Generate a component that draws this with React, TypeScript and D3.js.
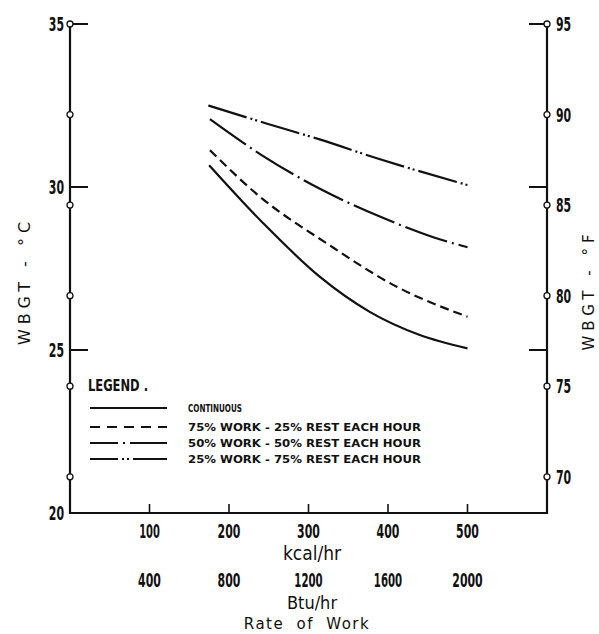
import React, { useEffect, useRef } from "react";
import * as d3 from "d3";

// rate of work, kcal/hr
const kcalTicks = [100, 200, 300, 400, 500];
const btuTicks = [400, 800, 1200, 1600, 2000];
const celsiusTicks = [20, 25, 30, 35];
const fahrenheitTicks = [70, 75, 80, 85, 90, 95];

const seriesNames = [
  "CONTINUOUS",
  "75% WORK - 25% REST EACH HOUR",
  "50% WORK - 50% REST EACH HOUR",
  "25% WORK - 75% REST EACH HOUR",
];

// values: [kcal/hr, WBGT °C]
const continuous: [number, number][] = [
  [175, 30.67], [243, 28.89], [314, 27.25], [377, 26.17], [440, 25.46], [500, 25.05],
];
const work75: [number, number][] = [
  [176, 31.13], [239, 29.7], [323, 28.27], [411, 26.94], [500, 26.02],
];
const work50: [number, number][] = [
  [176, 32.08], [241, 30.98], [318, 29.9], [392, 29.07], [457, 28.46], [500, 28.15],
];
const work25: [number, number][] = [
  [174, 32.5], [247, 31.95], [314, 31.46], [390, 30.85], [500, 30.06],
];

const allSeries = [continuous, work75, work50, work25];
const curveDash = [null, "9,5", "44,5,2,5", "40,4,2,3,2,4"];
const legendDash = [null, "10,7", "28,5,2,5,60", "28,4,2,3,2,4,60"];

const FONT = "'DejaVu Sans Condensed', 'DejaVu Sans', sans-serif";
const ink = "#111";

// the scanned digits are very narrow; squeeze them to that width
const numWidth = (s: string) =>
  s.split("").reduce((w, c) => w + (c === "1" ? 5.5 : 7.6), 0);

export default function App() {
  const ref = useRef<SVGSVGElement | null>(null);

  useEffect(() => {
    const svg = d3.select(ref.current);
    svg.selectAll("*").remove();

    const x = d3.scaleLinear().domain([0, 600]).range([70, 547]);
    const xBtu = d3.scaleLinear().domain([0, 2400]).range([70, 547]);
    const yC = d3.scaleLinear().domain([20, 35]).range([513, 24]);
    const yF = d3.scaleLinear().domain([68, 95]).range([513, 24]);

    const g = svg.append("g");

    const num = (v: number, px: number, py: number, anchor: string) =>
      g.append("text")
        .attr("x", px).attr("y", py)
        .attr("text-anchor", anchor)
        .attr("font-family", FONT).attr("font-weight", "bold")
        .attr("font-size", 19).attr("fill", ink)
        .attr("textLength", numWidth(String(v)))
        .attr("lengthAdjust", "spacingAndGlyphs")
        .text(v);

    // frame: left, bottom, right axes
    g.append("path")
      .attr("d", `M${x(0)},${yC(35)}V${yC(20)}H${x(600)}V${yC(35)}`)
      .attr("fill", "none")
      .attr("stroke", ink)
      .attr("stroke-width", 2.2);

    // celsius ticks (short dashes on both sides)
    celsiusTicks.filter(t => t > 20).forEach(t => {
      g.append("line")
        .attr("x1", x(0)).attr("x2", x(0) + 18)
        .attr("y1", yC(t)).attr("y2", yC(t))
        .attr("stroke", ink).attr("stroke-width", 2);
      g.append("line")
        .attr("x1", x(600) - 18).attr("x2", x(600))
        .attr("y1", yC(t)).attr("y2", yC(t))
        .attr("stroke", ink).attr("stroke-width", 2);
    });
    celsiusTicks.forEach(t => num(t, x(0) - 6, yC(t) + 7, "end"));

    // fahrenheit markers: small open circles on both vertical axes
    fahrenheitTicks.forEach(t => {
      [x(0), x(600)].forEach(cx => {
        g.append("circle")
          .attr("cx", cx).attr("cy", yF(t)).attr("r", 3)
          .attr("fill", "#fff").attr("stroke", ink).attr("stroke-width", 1.3);
      });
      num(t, x(600) + 9, yF(t) + 7, "start");
    });

    // bottom ticks point up into the plot
    kcalTicks.forEach(t => {
      g.append("line")
        .attr("x1", x(t)).attr("x2", x(t))
        .attr("y1", yC(20)).attr("y2", yC(20) - 9)
        .attr("stroke", ink).attr("stroke-width", 1.6);
      num(t, x(t), 538, "middle");
    });
    btuTicks.forEach(t => num(t, xBtu(t), 587, "middle"));

    const label = (txt: string, cx: number, cy: number, size: number) =>
      g.append("text")
        .attr("x", cx).attr("y", cy)
        .attr("text-anchor", "middle")
        .attr("font-family", FONT)
        .attr("font-size", size).attr("fill", ink)
        .text(txt);
    label("kcal/hr", 312, 560, 19);
    label("Btu/hr", 312, 609, 18);
    g.append("text")
      .attr("x", 307).attr("y", 629)
      .attr("text-anchor", "middle")
      .attr("font-family", "'DejaVu Sans', sans-serif")
      .attr("font-size", 15).attr("letter-spacing", 1.5)
      .attr("word-spacing", 6)
      .attr("fill", ink)
      .text("Rate of Work");

    // rotated y labels
    g.append("text")
      .attr("transform", `translate(30,281) rotate(-90)`)
      .attr("text-anchor", "middle")
      .attr("font-family", "'DejaVu Sans', sans-serif")
      .attr("font-size", 16).attr("letter-spacing", 5)
      .attr("fill", ink)
      .text("WBGT - °C");
    g.append("text")
      .attr("transform", `translate(594,290) rotate(-90)`)
      .attr("text-anchor", "middle")
      .attr("font-family", "'DejaVu Sans', sans-serif")
      .attr("font-size", 15).attr("letter-spacing", 5)
      .attr("fill", ink)
      .text("WBGT - °F");

    // curves
    const line = d3.line<[number, number]>()
      .x(d => x(d[0]))
      .y(d => yC(d[1]))
      .curve(d3.curveMonotoneX);

    allSeries.forEach((s, i) => {
      const p = g.append("path")
        .attr("d", line(s))
        .attr("fill", "none")
        .attr("stroke", ink)
        .attr("stroke-width", 2.2);
      if (curveDash[i]) p.attr("stroke-dasharray", curveDash[i] as string);
    });

    // legend
    g.append("text")
      .attr("x", 88).attr("y", 391)
      .attr("font-family", FONT).attr("font-weight", "bold")
      .attr("font-size", 16).attr("fill", ink)
      .attr("textLength", 60).attr("lengthAdjust", "spacingAndGlyphs")
      .text("LEGEND .");
    const rowY = [408, 427, 443, 459];
    seriesNames.forEach((name, i) => {
      const l = g.append("line")
        .attr("x1", 90).attr("x2", 167)
        .attr("y1", rowY[i]).attr("y2", rowY[i])
        .attr("stroke", ink).attr("stroke-width", 2.2);
      if (legendDash[i]) l.attr("stroke-dasharray", legendDash[i] as string);
      g.append("text")
        .attr("x", 188).attr("y", rowY[i] + 4)
        .attr("font-family", FONT).attr("font-weight", "bold")
        .attr("font-size", 11).attr("fill", ink)
        .attr("textLength", i === 0 ? 54 : 233)
        .attr("lengthAdjust", "spacingAndGlyphs")
        .text(name);
    });
  }, []);

  return (
    <svg
      ref={ref}
      width={599}
      height={634}
      style={{ position: "absolute", left: 0, top: 0, background: "#fff" }}
    />
  );
}
